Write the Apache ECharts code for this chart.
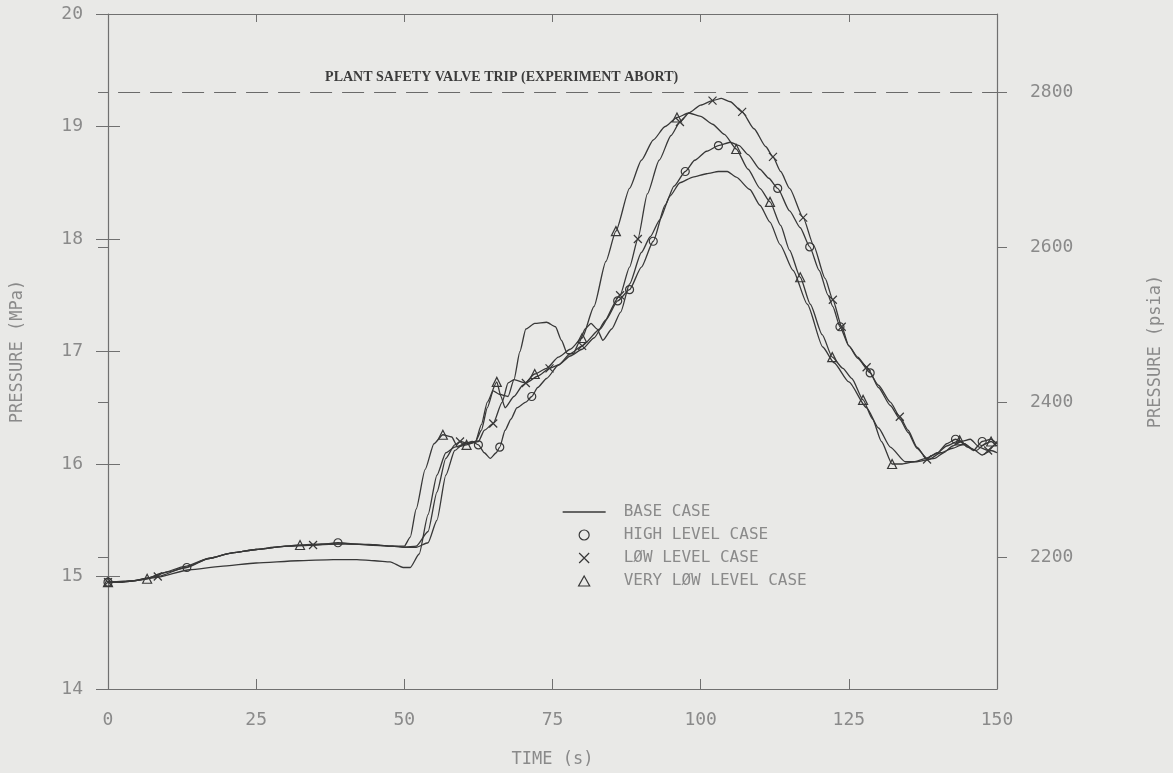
<!DOCTYPE html>
<html>
<head>
<meta charset="utf-8">
<script src="https://cdn.jsdelivr.net/npm/echarts@6/dist/echarts.min.js"></script>
<style>
  html, body { margin: 0; padding: 0; background: #e9e9e7; }
  #chart { width: 1173px; height: 773px; }
</style>
</head>
<body>
<div id="chart"></div>
<script>
// Unit conversion and axis ranges
const MPA_PER_PSI = 0.00689476;
const PRESSURE_RANGE_MPA = [14, 20];
const TIME_RANGE_S = [0, 150];
const PSIA_TICKS = [2200, 2400, 2600, 2800];
const TRIP_PSIA = 2800;
const TRIP_LINE_START_S = 1.7;

// Pressure histories: [time (s), pressure (MPa)]
const baseCase = [[0,14.95],[4,14.96],[8,14.99],[13.8,15.06],[19,15.09],[25,15.12],[32,15.14],[38,15.15],[42,15.15],[45,15.14],[47.6,15.13],[49.8,15.08],[51,15.08],[52.5,15.2],[54,15.55],[55.5,15.9],[57,16.1],[58.5,16.15],[60.5,16.18],[62,16.2],[63,16.3],[64,16.5],[65,16.65],[66,16.62],[67.5,16.6],[68.5,16.75],[69.5,17.0],[70.5,17.2],[72,17.25],[74,17.26],[75.5,17.22],[76.5,17.1],[77.5,16.98],[78.5,16.98],[79.5,17.08],[80.5,17.2],[81.5,17.25],[82.5,17.2],[83.5,17.1],[85,17.2],[86.5,17.35],[88,17.6],[90,17.88],[91.5,18.02],[93.1,18.17],[94.8,18.38],[96.5,18.5],[98.7,18.55],[101,18.58],[103,18.6],[104.5,18.6],[106,18.55],[108.3,18.44],[110,18.3],[111.7,18.15],[113.4,17.95],[115.6,17.72],[118,17.42],[120.6,17.04],[122.5,16.9],[125,16.73],[128,16.5],[130,16.32],[132,16.15],[134.5,16.02],[136.5,16.02],[138.5,16.04],[140.5,16.1],[142.5,16.14],[144.5,16.18],[146,16.13],[147.5,16.08],[149,16.12],[150,16.1]];

const highLevel = [[0,14.95],[2,14.95],[4,14.96],[7,14.99],[10,15.04],[13.3,15.08],[17,15.16],[21,15.21],[25,15.24],[30,15.27],[35,15.28],[38.8,15.3],[44,15.28],[48,15.27],[50,15.26],[52,15.26],[54,15.3],[55.5,15.5],[57,15.9],[58.5,16.12],[60,16.18],[61.5,16.2],[62.5,16.17],[63.5,16.1],[64.5,16.05],[65.5,16.1],[66.1,16.15],[67,16.3],[68,16.4],[69,16.5],[70.5,16.55],[71.5,16.6],[72.5,16.68],[74,16.76],[76,16.88],[78,16.96],[80,17.02],[82,17.12],[84,17.28],[86,17.45],[88,17.55],[90,17.75],[92,17.98],[94,18.3],[95.5,18.47],[97.4,18.6],[99,18.7],[101,18.78],[103,18.83],[105,18.86],[106.5,18.83],[108,18.75],[110,18.62],[111.5,18.54],[113,18.45],[115,18.25],[116.8,18.1],[118.4,17.93],[120,17.72],[121.5,17.5],[122.3,17.4],[123.5,17.22],[125,17.05],[126.5,16.94],[128.6,16.81],[130,16.68],[132,16.52],[133.6,16.4],[135,16.28],[136.5,16.14],[138.2,16.05],[140,16.1],[141.5,16.18],[143,16.22],[144.5,16.18],[146,16.12],[147.5,16.2],[149,16.22],[150,16.18]];
const highLevelMarks = [0, 13.3, 38.8, 62.5, 66.1, 71.5, 86, 88, 92, 97.4, 103, 113, 118.4, 123.5, 128.6, 143, 147.5];

const lowLevel = [[0,14.95],[2,14.95],[4,14.96],[8.4,15.0],[13,15.08],[17,15.16],[21,15.21],[25,15.24],[30,15.27],[34.6,15.28],[40,15.29],[45,15.28],[48,15.27],[50,15.26],[52,15.27],[54,15.4],[55.5,15.75],[57,16.05],[58.5,16.17],[59.4,16.2],[61,16.18],[62.5,16.2],[63.5,16.3],[65,16.36],[66.5,16.55],[67.5,16.72],[68.5,16.75],[70.5,16.72],[72.5,16.78],[74.5,16.85],[76,16.88],[78,16.98],[80,17.05],[83,17.2],[86.4,17.5],[88,17.75],[89.4,18.0],[91,18.4],[93,18.7],[95,18.92],[96.5,19.04],[98,19.12],[100,19.19],[102,19.23],[103.5,19.25],[105,19.22],[107,19.13],[109,18.98],[111,18.82],[112.2,18.73],[113.5,18.6],[115,18.45],[117.3,18.19],[119,17.95],[121,17.65],[122.3,17.46],[123.8,17.22],[125,17.05],[126.5,16.95],[128,16.86],[130,16.7],[132,16.55],[133.6,16.42],[135,16.3],[136.5,16.15],[138.2,16.04],[139.5,16.05],[141,16.1],[142.5,16.16],[144,16.2],[145.5,16.22],[147,16.15],[148.5,16.12],[150,16.2]];
const lowLevelMarks = [0, 8.4, 34.6, 59.4, 65, 70.5, 74.5, 80, 86.4, 89.4, 96.5, 102, 107, 112.2, 117.3, 122.3, 123.8, 128, 133.6, 138.2, 148.5];

const veryLowLevel = [[0,14.95],[2,14.95],[4,14.96],[6.6,14.98],[9,15.03],[13,15.09],[17,15.16],[21,15.21],[25,15.24],[28,15.26],[32.4,15.28],[36,15.29],[40,15.29],[44,15.285],[48,15.27],[50,15.27],[51,15.35],[52,15.6],[53.5,15.95],[55,16.18],[56.5,16.26],[58,16.24],[59,16.15],[60.5,16.17],[62,16.2],[63,16.35],[64,16.55],[65.6,16.73],[66.3,16.6],[67,16.5],[68.5,16.6],[70,16.7],[72,16.8],[74,16.85],[76,16.95],[78,17.02],[80,17.12],[82,17.4],[84,17.8],[85.7,18.07],[88,18.45],[90,18.7],[92,18.88],[94,19.0],[96,19.08],[98,19.12],[100,19.09],[102,19.02],[104,18.93],[106,18.8],[108,18.62],[110,18.45],[111.7,18.33],[113.5,18.12],[115,17.9],[116.8,17.66],[118.5,17.42],[120.5,17.15],[122.2,16.95],[124,16.85],[125.5,16.76],[127.4,16.57],[129,16.4],[130.5,16.2],[132.3,16.0],[134,16.0],[136,16.02],[138,16.05],[140,16.1],[141.5,16.16],[143.7,16.21],[145,16.15],[146.5,16.12],[148,16.18],[149,16.2],[150,16.16]];
const veryLowLevelMarks = [0, 6.6, 32.4, 56.5, 60.5, 65.6, 72, 80, 85.7, 96, 106, 111.7, 116.8, 122.2, 127.4, 132.3, 143.7, 149];

const SERIES_NAMES = ['BASE CASE', 'HIGH LEVEL CASE', 'LØW LEVEL CASE', 'VERY LØW LEVEL CASE'];
const TRIP_LABEL = 'PLANT SAFETY VALVE TRIP (EXPERIMENT ABORT)';

// Styling
const INK = '#383838';
const AXIS = '#707070';
const TEXT = '#8a8a8a';
const MONO = '"DejaVu Sans Mono", "Liberation Mono", monospace';
const X_SYMBOL = 'path://M0,0L10,10M10,0L0,10';
const TRI_SYMBOL = 'path://M5,0L10,9L0,9Z';
const CLEAR = 'rgba(0,0,0,0)';

const psiaRange = PRESSURE_RANGE_MPA.map(v => v / MPA_PER_PSI);

function lineSeries(name, points, marks, symbol, symbolSize) {
  const markSet = new Set(marks || []);
  return {
    name,
    type: 'line',
    xAxisIndex: 0,
    yAxisIndex: 0,
    data: points.map(p => markSet.has(p[0]) ? { value: p } : { value: p, symbol: 'none' }),
    symbol: symbol,
    symbolSize: symbolSize,
    showSymbol: true,
    smooth: 0.2,
    smoothMonotone: 'x',
    clip: false,
    lineStyle: { color: INK, width: 1.3 },
    itemStyle: { color: CLEAR, borderColor: INK, borderWidth: 1.2 },
    emphasis: { disabled: true },
    z: 3
  };
}

const base = lineSeries(SERIES_NAMES[0], baseCase, [], 'circle', 0);
base.itemStyle = { color: CLEAR, borderColor: CLEAR, borderWidth: 0 };
base.markLine = {
  silent: true,
  symbol: ['none', 'none'],
  lineStyle: { color: '#6a6a6a', width: 1.2, type: [22, 10] },
  label: {
    show: true,
    formatter: TRIP_LABEL,
    position: 'insideStartTop',
    distance: [207, 8],
    color: '#3c3c3c',
    fontFamily: '"Liberation Serif", "DejaVu Serif", serif',
    fontWeight: 'bold',
    fontSize: 14
  },
  data: [[
    { coord: [TRIP_LINE_START_S, TRIP_PSIA * MPA_PER_PSI] },
    { coord: [TIME_RANGE_S[1], TRIP_PSIA * MPA_PER_PSI] }
  ]]
};

const plainNumber = v => String(Math.round(v));

const chart = echarts.init(document.getElementById('chart'), null, { renderer: 'canvas' });

chart.setOption({
  animation: false,
  backgroundColor: '#e9e9e7',
  grid: { left: 108, right: 176, top: 14, bottom: 84 },
  legend: {
    orient: 'vertical',
    left: 557,
    top: 499,
    itemWidth: 43,
    itemHeight: 10,
    itemGap: 7,
    selectedMode: false,
    textStyle: { color: TEXT, fontFamily: MONO, fontSize: 16, padding: [0, 0, 0, 13] },
    data: [
      { name: SERIES_NAMES[0], itemStyle: { color: CLEAR, borderColor: CLEAR, borderWidth: 0 }, lineStyle: { color: INK, width: 1.3 } },
      { name: SERIES_NAMES[1], icon: 'circle', itemStyle: { color: CLEAR, borderColor: INK, borderWidth: 1.2 } },
      { name: SERIES_NAMES[2], icon: X_SYMBOL, itemStyle: { color: CLEAR, borderColor: INK, borderWidth: 1.2 } },
      { name: SERIES_NAMES[3], icon: TRI_SYMBOL, itemStyle: { color: CLEAR, borderColor: INK, borderWidth: 1.2 } }
    ]
  },
  xAxis: [
    {
      type: 'value', position: 'bottom',
      min: TIME_RANGE_S[0], max: TIME_RANGE_S[1], interval: 25,
      axisLine: { show: true, onZero: false, lineStyle: { color: AXIS, width: 1.2 } },
      axisTick: { show: true, inside: true, length: 10, lineStyle: { color: AXIS } },
      axisLabel: { color: TEXT, fontFamily: MONO, fontSize: 18, margin: 22 },
      splitLine: { show: false },
      name: 'TIME (s)', nameLocation: 'middle', nameGap: 62,
      nameTextStyle: { color: TEXT, fontFamily: MONO, fontSize: 17 }
    },
    {
      type: 'value', position: 'top',
      min: TIME_RANGE_S[0], max: TIME_RANGE_S[1], interval: 25,
      axisLine: { show: true, onZero: false, lineStyle: { color: AXIS, width: 1.2 } },
      axisTick: { show: true, inside: true, length: 8, lineStyle: { color: AXIS } },
      axisLabel: { show: false },
      splitLine: { show: false }
    }
  ],
  yAxis: [
    {
      type: 'value', position: 'left',
      min: PRESSURE_RANGE_MPA[0], max: PRESSURE_RANGE_MPA[1], interval: 1,
      axisLine: { show: true, onZero: false, lineStyle: { color: AXIS, width: 1.2 } },
      axisTick: { show: true, inside: true, length: 12, lineStyle: { color: AXIS } },
      axisLabel: { color: TEXT, fontFamily: MONO, fontSize: 18, margin: 25 },
      splitLine: { show: false },
      name: 'PRESSURE (MPa)', nameLocation: 'middle', nameGap: 82, nameRotate: 90,
      nameTextStyle: { color: TEXT, fontFamily: MONO, fontSize: 17 }
    },
    {
      type: 'value', position: 'right',
      min: psiaRange[0], max: psiaRange[1],
      axisLine: { show: true, onZero: false, lineStyle: { color: AXIS, width: 1.2 } },
      axisTick: { show: true, inside: false, length: 10, customValues: PSIA_TICKS, lineStyle: { color: AXIS } },
      axisLabel: { customValues: PSIA_TICKS, formatter: plainNumber, color: TEXT, fontFamily: MONO, fontSize: 18, margin: 33 },
      splitLine: { show: false },
      name: 'PRESSURE (psia)', nameLocation: 'middle', nameGap: 150, nameRotate: 90,
      nameTextStyle: { color: TEXT, fontFamily: MONO, fontSize: 17 }
    },
    {
      type: 'value', position: 'right',
      min: PRESSURE_RANGE_MPA[0], max: PRESSURE_RANGE_MPA[1], interval: 1,
      axisLine: { show: false },
      axisTick: { show: true, inside: true, length: 12, lineStyle: { color: AXIS } },
      axisLabel: { show: false },
      splitLine: { show: false }
    },
    {
      type: 'value', position: 'left',
      min: psiaRange[0], max: psiaRange[1],
      axisLine: { show: false },
      axisTick: { show: true, inside: false, length: 10, customValues: PSIA_TICKS, lineStyle: { color: AXIS } },
      axisLabel: { show: false },
      splitLine: { show: false }
    }
  ],
  series: [
    base,
    lineSeries(SERIES_NAMES[1], highLevel, highLevelMarks, 'circle', 8),
    lineSeries(SERIES_NAMES[2], lowLevel, lowLevelMarks, X_SYMBOL, 8),
    lineSeries(SERIES_NAMES[3], veryLowLevel, veryLowLevelMarks, TRI_SYMBOL, 9)
  ]
});
</script>
</body>
</html>
